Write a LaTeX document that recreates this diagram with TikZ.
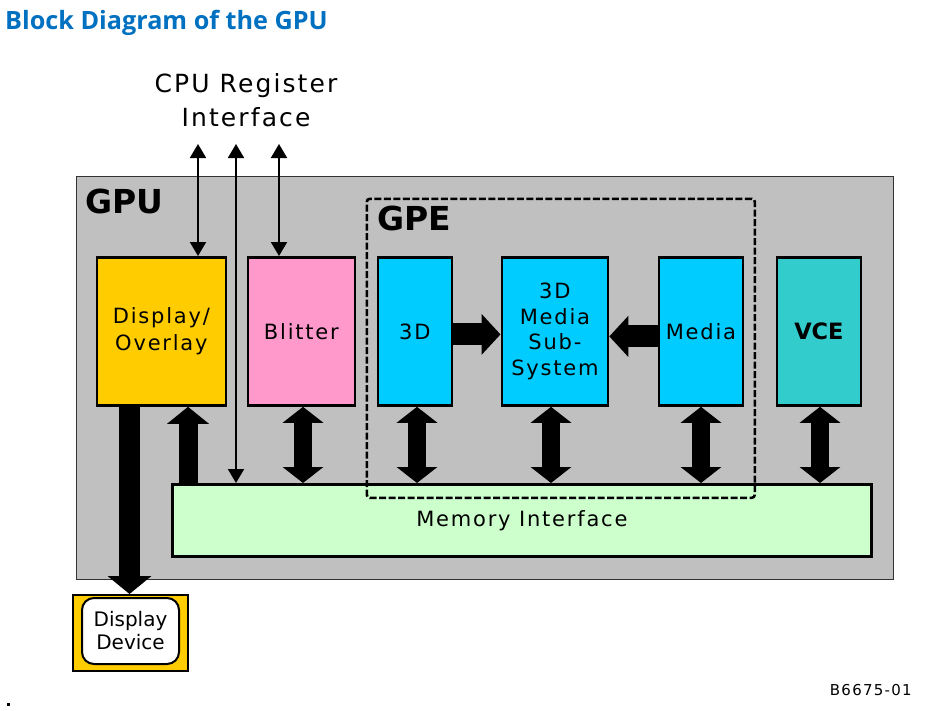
\documentclass[tikz,border=0pt]{standalone}
\usepackage{fontspec}
\setmainfont{DejaVu Sans}
\newfontfamily\spacedfont[LetterSpace=8.5]{DejaVu Sans}
\newfontfamily\titlefont{Open Sans}
\usetikzlibrary{arrows.meta,calc}
\definecolor{gpugray}{RGB}{192,192,192}
\definecolor{dispyellow}{RGB}{255,204,0}
\definecolor{blitpink}{RGB}{255,153,204}
\definecolor{gpecyan}{RGB}{0,204,255}
\definecolor{vceteal}{RGB}{51,204,204}
\definecolor{memgreen}{RGB}{204,255,204}
\definecolor{titleblue}{RGB}{0,112,192}
\tikzset{
  blk/.style={draw=black, line width=2.8pt, inner sep=0pt, anchor=north west, align=center,
    font=\spacedfont\fontsize{21}{27}\selectfont},
  boldlbl/.style={inner sep=0pt, font=\bfseries\fontsize{33}{36}\selectfont},
  thinarr/.style={line width=2pt, {Triangle[width=16pt,length=14pt]}-{Triangle[width=16pt,length=14pt]}},
  bigdouble/.style={line width=18pt, {Triangle[width=40pt,length=16pt]}-{Triangle[width=40pt,length=16pt]}},
  bigsingle/.style={line width=19pt, -{Triangle[width=41pt,length=17pt]}},
  bigdown/.style={line width=21pt, -{Triangle[width=43pt,length=18pt]}},
  bighoriz/.style={line width=22pt, -{Triangle[width=40pt,length=19pt]}},
}
\begin{document}
\begin{tikzpicture}[x=1pt,y=-1pt]
\useasboundingbox (0,0) rectangle (932,710);
% title
\node[anchor=base west, inner sep=0pt, text=titleblue, font=\titlefont\bfseries\fontsize{25.2}{28}\selectfont] (title) at (5,29) {Block Diagram of the GPU};
% CPU register interface label
\node[align=center, inner sep=0pt, font=\spacedfont\fontsize{25}{34}\selectfont] (cpu) at (246,100) {CPU Register\\Interface};
% GPU box
\node[draw=black!80, line width=1.5pt, fill=gpugray, anchor=north west, minimum width=817pt, minimum height=403pt, inner sep=0pt] (gpu) at (75.5,175.5) {};
\node[boldlbl, anchor=base west] (gpulbl) at (85,213) {GPU};
% memory interface
\node[blk, fill=memgreen, minimum width=699pt, minimum height=72pt] (mem) at (171,483) {Memory Interface};
% blocks
\node[blk, fill=dispyellow, minimum width=129pt, minimum height=148pt] (disp) at (95.5,256) {Display/\\Overlay};
\node[blk, fill=blitpink, minimum width=107pt, minimum height=148pt] (blit) at (246.5,256) {Blitter};
\node[blk, fill=gpecyan, minimum width=74pt, minimum height=148pt] (td) at (376.5,256) {3D};
\node[blk, fill=gpecyan, minimum width=106pt, minimum height=148pt, font=\spacedfont\fontsize{21}{25.5}\selectfont] (mss) at (500.5,256) {3D\\Media\\Sub-\\System};
\node[blk, fill=gpecyan, minimum width=84pt, minimum height=148pt] (media) at (657.5,256) {Media};
\node[blk, fill=vceteal, minimum width=84pt, minimum height=148pt, font=\bfseries\fontsize{22.5}{26}\selectfont] (vce) at (775.5,256) {VCE};
% GPE dashed box
\node[draw=black, line width=2.6pt, dash pattern=on 7pt off 2.5pt, rounded corners=3pt, anchor=north west, minimum width=388pt, minimum height=299pt, inner sep=0pt] (gpe) at (365.5,197.5) {};
\node[boldlbl, anchor=base west] (gpelbl) at (377,230) {GPE};
% display device
\node[draw=black, line width=2pt, fill=dispyellow, anchor=north west, minimum width=115pt, minimum height=76pt, inner sep=0pt] (dev) at (72,594) {};
\node[draw=black, line width=2pt, fill=white, rounded corners=12pt, minimum width=97pt, minimum height=66pt, inner sep=0pt, align=center, font=\fontsize{20}{23}\selectfont] (devin) at ([yshift=2pt]dev.center) {Display\\Device};
% CPU arrows
\coordinate (c1) at (198,144);
\coordinate (c2) at (236,144);
\coordinate (c3) at (279,144);
\draw[thinarr] (c1) -- (c1 |- disp.north);
\draw[thinarr] (c2) -- (c2 |- mem.north);
\draw[thinarr] (c3) -- (c3 |- blit.north);
% thick arrows
\draw[bigdown] ([xshift=34pt]disp.south west) -- ([xshift=34pt]disp.south west |- dev.north);
\draw[bigsingle] ([xshift=92.5pt]disp.south west |- mem.north) -- ([xshift=92.5pt]disp.south west);
\draw[bigdouble] ([xshift=56.5pt]blit.south west) -- ([xshift=56.5pt]blit.south west |- mem.north);
\draw[bigdouble] ([xshift=40.5pt]td.south west) -- ([xshift=40.5pt]td.south west |- mem.north);
\draw[bigdouble] ([xshift=50.5pt]mss.south west) -- ([xshift=50.5pt]mss.south west |- mem.north);
\draw[bigdouble] ([xshift=43.5pt]media.south west) -- ([xshift=43.5pt]media.south west |- mem.north);
\draw[bigdouble] ([xshift=44.5pt]vce.south west) -- ([xshift=44.5pt]vce.south west |- mem.north);
\draw[bighoriz] ([yshift=-3pt]td.east) -- ([yshift=-3pt]td.east -| mss.west);
\draw[bighoriz] ([yshift=-5pt]media.west) -- ([yshift=-5pt]media.west -| mss.east);
% figure number and dot
\node[anchor=base east, inner sep=0pt, font=\spacedfont\fontsize{15}{18}\selectfont] (fig) at (912,695) {B6675-01};
\fill (7,703) rectangle (9.5,705.5);
\end{tikzpicture}
\end{document}
